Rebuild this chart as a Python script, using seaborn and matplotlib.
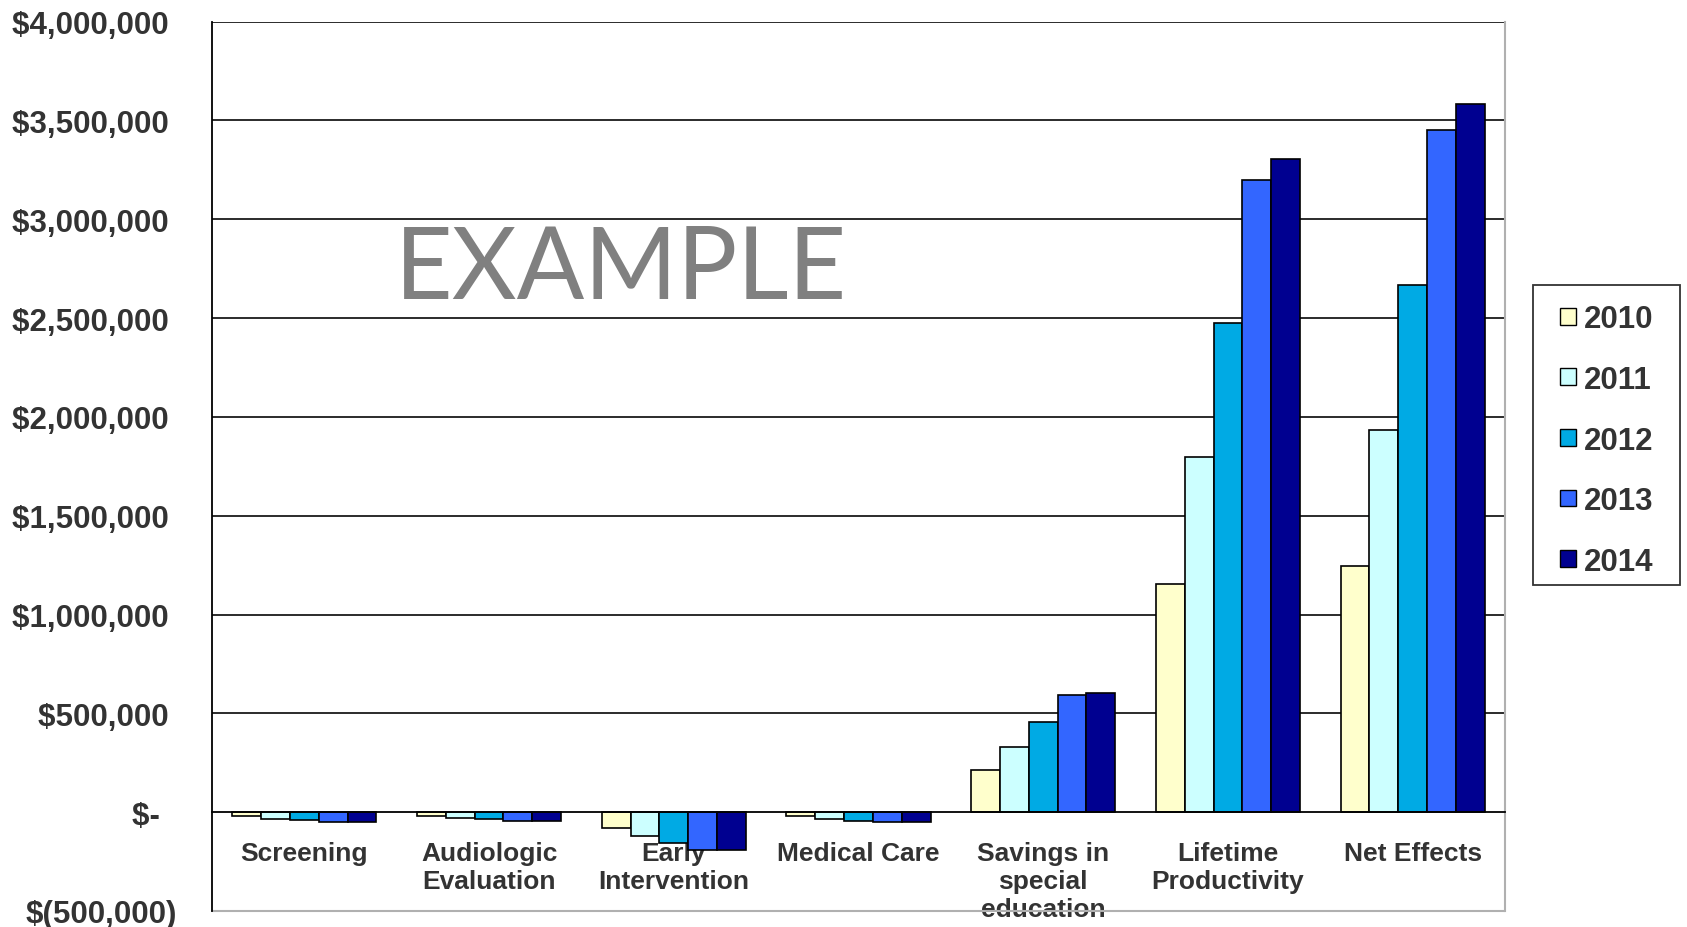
import numpy as np
import pandas as pd
import matplotlib
matplotlib.use("Agg")
import matplotlib.pyplot as plt
import seaborn as sns
from matplotlib.patches import Patch, Rectangle
from matplotlib.ticker import FuncFormatter, FixedLocator

categories = ["Screening", "Audiologic\nEvaluation", "Early\nIntervention", "Medical Care",
              "Savings in\nspecial\neducation", "Lifetime\nProductivity", "Net Effects"]
years = ["2010", "2011", "2012", "2013", "2014"]
v2010 = [-20000, -20000, -79000, -20000, 212000, 1156000, 1243000]
v2011 = [-37000, -30000, -121000, -37000, 331000, 1797000, 1932000]
v2012 = [-42000, -37000, -155000, -44000, 456000, 2475000, 2665000]
v2013 = [-50000, -44000, -190000, -50000, 592000, 3197000, 3452000]
v2014 = [-50000, -44000, -193000, -50000, 602000, 3305000, 3582000]
colors = ["#FFFFCC", "#CCFFFF", "#00AAE4", "#3366FF", "#000090"]

series = [v2010, v2011, v2012, v2013, v2014]
df = pd.DataFrame({
    "category": categories * len(years),
    "year": [y for y in years for _ in categories],
    "value": [v for s in series for v in s],
})

sns.set_style("white")
plt.rcParams["font.family"] = ["Liberation Sans", "DejaVu Sans"]

W, H = 1687, 928
fig = plt.figure(figsize=(W / 100, H / 100), dpi=100)
ax = fig.add_axes([212/W, 1-912/H, (1505-212)/W, (912-22.5)/H])

sns.barplot(data=df, x="category", y="value", hue="year", palette=colors,
            order=categories, hue_order=years, width=0.78, saturation=1,
            edgecolor="black", linewidth=1.2, ax=ax, legend=False, zorder=3)

ax.set_ylim(-500000, 4000000)
ax.set_xlim(-0.5, len(categories) - 0.5)
ax.set_xlabel("")
ax.set_ylabel("")

ticks = np.arange(-500000, 4000001, 500000)
ax.yaxis.set_major_locator(FixedLocator(ticks))

def fmt(v, pos):
    if v == 0:
        return "$-  "
    if v < 0:
        return "$({:,.0f})".format(-v)
    return "${:,.0f} ".format(v)

ax.yaxis.set_major_formatter(FuncFormatter(fmt))

for t in ticks:
    if t > 0:
        ax.axhline(t, color="#1a1a1a", lw=1.3, zorder=1)
ax.axhline(-500000, color="#b0b0b0", lw=1.5, zorder=2, clip_on=False)

ax.spines["bottom"].set_position(("data", 0))
ax.spines["bottom"].set_color("black")
ax.spines["bottom"].set_linewidth(1.3)
ax.spines["bottom"].set_zorder(4)
ax.spines["left"].set_color("black")
ax.spines["left"].set_linewidth(1.3)
ax.spines["right"].set_color("#b0b0b0")
ax.spines["right"].set_linewidth(1.5)
ax.spines["top"].set_visible(False)

ax.tick_params(axis="y", which="major", direction="out", length=7, width=1.2,
               color="black", pad=18, labelsize=22.5, labelcolor="#333333")
for lab in ax.get_yticklabels():
    lab.set_fontweight("bold")

ax.set_xticks(range(len(categories)))
ax.set_xticklabels(categories, fontsize=19, fontweight="bold", color="#333333",
                   linespacing=1.2, va="top")
ax.tick_params(axis="x", which="major", length=0, pad=21)
ax.set_xticks(np.arange(-0.5, len(categories), 1.0), minor=True)
ax.tick_params(axis="x", which="minor", direction="out", length=9, width=1.2, color="black")

fig.text(395/W, 1-299/H, "EXAMPLE", fontsize=72, color="#808080",
         family=["Lato", "DejaVu Sans"], ha="left", va="baseline")

# legend frame box
x0, y0, x1, y1 = 1533, 286, 1680, 586
fig.patches.append(Rectangle((x0/W, 1-y1/H), (x1-x0)/W, (y1-y0)/H,
                             transform=fig.transFigure, facecolor="white",
                             edgecolor="#333333", linewidth=1.3, zorder=5))
handles = [Patch(facecolor=c, edgecolor="black", linewidth=1.0) for c in colors]
leg = fig.legend(handles, years, loc="center",
                 bbox_to_anchor=((x0+x1)/2/W, 1-(y0+y1)/2/H - 0.006), frameon=False,
                 handlelength=0.5, handleheight=0.45,
                 handletextpad=0.25, labelspacing=0.98, borderpad=0, borderaxespad=0,
                 prop={"family": "Liberation Sans", "weight": "bold", "size": 22.5})
leg.set_zorder(6)
for t in leg.get_texts():
    t.set_color("#333333")

fig.savefig("out.png", dpi=100)
